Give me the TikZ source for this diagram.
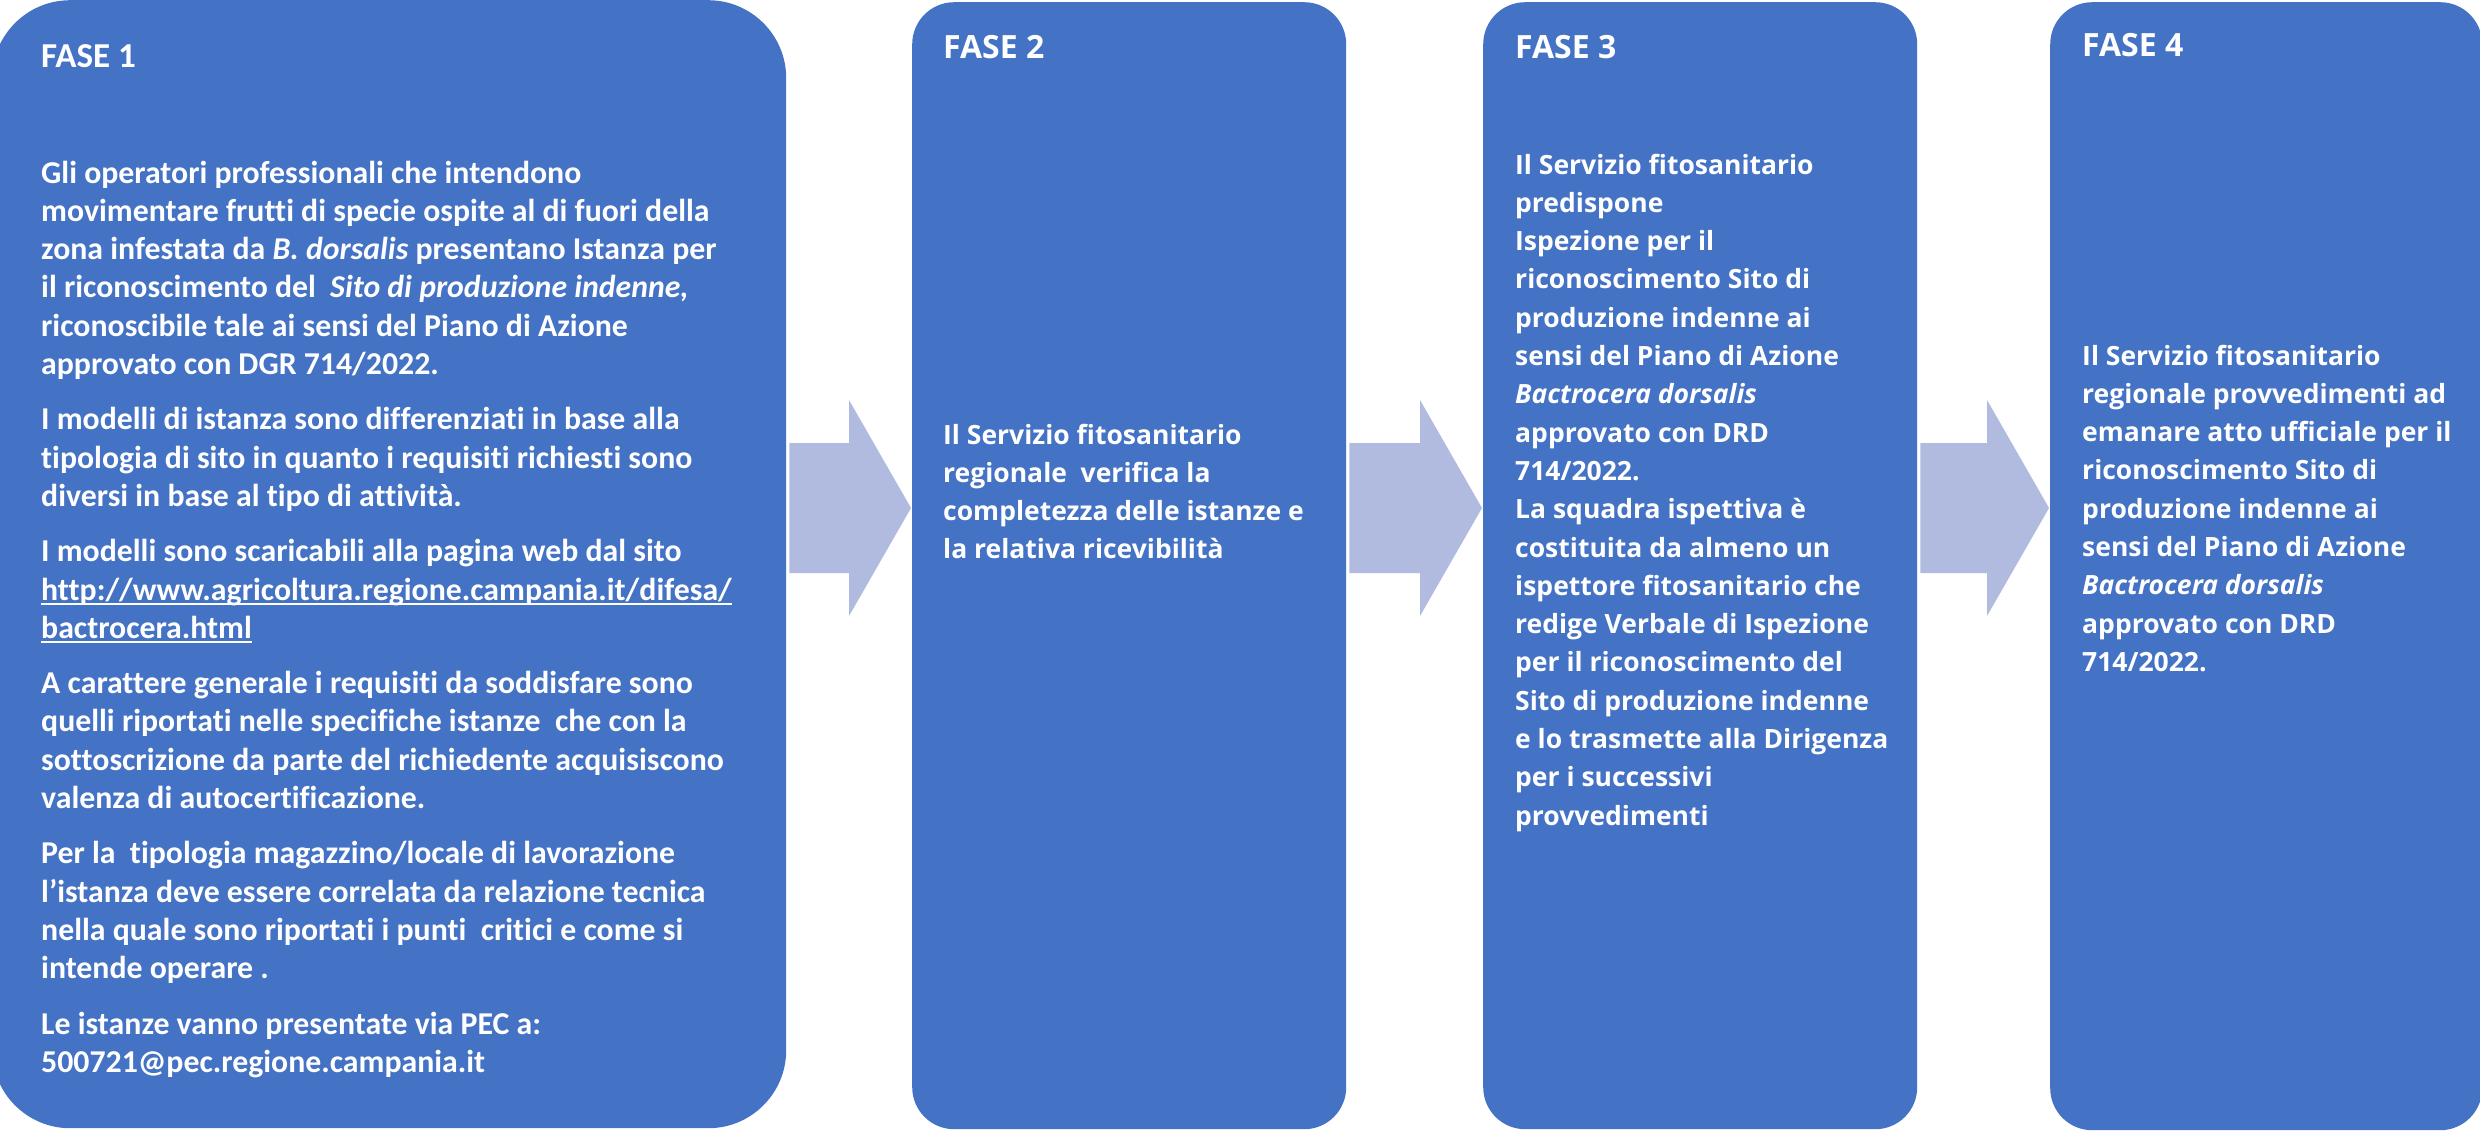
\documentclass[tikz,border=0pt]{standalone}
\usepackage{fontspec}
\setmainfont{Open Sans}[Ligatures={NoCommon,NoContextual}]
\newfontfamily\carl{Carlito}[Ligatures={NoCommon,NoContextual}]
\usetikzlibrary{calc}
\definecolor{boxc}{HTML}{4472C4}
\definecolor{arrc}{HTML}{B0BBDF}
\newcommand\Lines[1]{\vtop{\halign{##\hfil\cr#1\crcr}}}
\newcommand\ulin[1]{\setbox0\hbox{#1}\rlap{\rule[-4.5pt]{\wd0}{2pt}}\box0}
\newcommand\pgap{\noalign{\vskip17pt}}
\begin{document}
\begin{tikzpicture}[x=1pt,y=-1pt,
  phase/.style={fill=boxc, draw=none, inner sep=0pt, anchor=north west},
  ttla/.style={text=white, inner sep=0pt, anchor=base west, font=\carl\bfseries\fontsize{35}{42}\selectfont},
  ttl/.style={text=white, inner sep=0pt, anchor=base west, font=\bfseries\fontsize{32}{38}\selectfont},
  bodya/.style={text=white, inner sep=0pt, anchor=base west, font=\carl\bfseries\fontsize{31.8}{38.3}\selectfont},
  body/.style={text=white, inner sep=0pt, anchor=base west, font=\bfseries\fontsize{26.5}{38.3}\selectfont},
  arr/.style={fill=arrc, draw=none}]
\useasboundingbox (0,0) rectangle (2480,1130);
\fill[white] (0,0) rectangle (2480,1130);
% boxes
\node[phase, rounded corners=78pt, minimum width=794pt, minimum height=1128pt] (f1) at (-8,0) {};
\node[phase, rounded corners=42pt, minimum width=434pt, minimum height=1127pt] (f2) at (912,2) {};
\node[phase, rounded corners=42pt, minimum width=434pt, minimum height=1127pt] (f3) at (1483,2) {};
\node[phase, rounded corners=42pt, minimum width=432pt, minimum height=1128pt] (f4) at (2050,2) {};
% arrows
\coordinate (ay) at (0,508);
\foreach \a/\b in {f1/f2,f2/f3,f3/f4}{
  \fill[arr] ($(\a.east|-ay)+(3,-65)$) -- ($(\b.west|-ay)+(-63,-65)$) -- ($(\b.west|-ay)+(-63,-108)$)
    -- ($(\b.west|-ay)+(-1,0)$) -- ($(\b.west|-ay)+(-63,108)$) -- ($(\b.west|-ay)+(-63,65)$)
    -- ($(\a.east|-ay)+(3,65)$) -- cycle;
}
% titles
\node[ttla] (t1) at (41,67) {FASE 1};
\node[ttl] (t2) at (943,58) {FASE 2};
\node[ttl] (t3) at (1515,58) {FASE 3};
\node[ttl] (t4) at (2082,56) {FASE 4};
% FASE 1 text
\node[bodya] (b1) at (41,183) {\Lines{%
Gli operatori professionali che intendono\cr
movimentare frutti di specie ospite al di fuori della\cr
zona infestata da \textit{B. dorsalis} presentano Istanza per\cr
il riconoscimento del\ \ \textit{Sito di produzione indenne,}\cr
riconoscibile tale ai sensi del Piano di Azione\cr
approvato con DGR 714/2022.\cr\pgap
I modelli di istanza sono differenziati in base alla\cr
tipologia di sito in quanto i requisiti richiesti sono\cr
diversi in base al tipo di attività.\cr\pgap
I modelli sono scaricabili alla pagina web dal sito\cr
\ulin{http://www.agricoltura.regione.campania.it/difesa/}\cr
\ulin{bactrocera.html}\cr\pgap
A carattere generale i requisiti da soddisfare sono\cr
quelli riportati nelle specifiche istanze\ \ che con la\cr
sottoscrizione da parte del richiedente acquisiscono\cr
valenza di autocertificazione.\cr\pgap
Per la\ \ tipologia magazzino/locale di lavorazione\cr
l’istanza deve essere correlata da relazione tecnica\cr
nella quale sono riportati i punti\ \ critici e come si\cr
intende operare .\cr\pgap
Le istanze vanno presentate via PEC a:\cr
500721@pec.regione.campania.it}};
% FASE 2 text
\node[body] (b2) at (943,444) {\Lines{%
Il Servizio fitosanitario\cr
regionale\ \ verifica la\cr
completezza delle istanze e\cr
la relativa ricevibilità}};
% FASE 3 text
\node[body] (b3) at (1515,174) {\Lines{%
Il Servizio fitosanitario\cr
predispone\cr
Ispezione per il\cr
riconoscimento Sito di\cr
produzione indenne ai\cr
sensi del Piano di Azione\cr
\textit{Bactrocera dorsalis}\cr
approvato con DRD\cr
714/2022.\cr
La squadra ispettiva è\cr
costituita da almeno un\cr
ispettore fitosanitario che\cr
redige Verbale di Ispezione\cr
per il riconoscimento del\cr
Sito di produzione indenne\cr
e lo trasmette alla Dirigenza\cr
per i successivi\cr
provvedimenti}};
% FASE 4 text
\node[body] (b4) at (2082,365) {\Lines{%
Il Servizio fitosanitario\cr
regionale provvedimenti ad\cr
emanare atto ufficiale per il\cr
riconoscimento Sito di\cr
produzione indenne ai\cr
sensi del Piano di Azione\cr
\textit{Bactrocera dorsalis}\cr
approvato con DRD\cr
714/2022.}};
\end{tikzpicture}
\end{document}
